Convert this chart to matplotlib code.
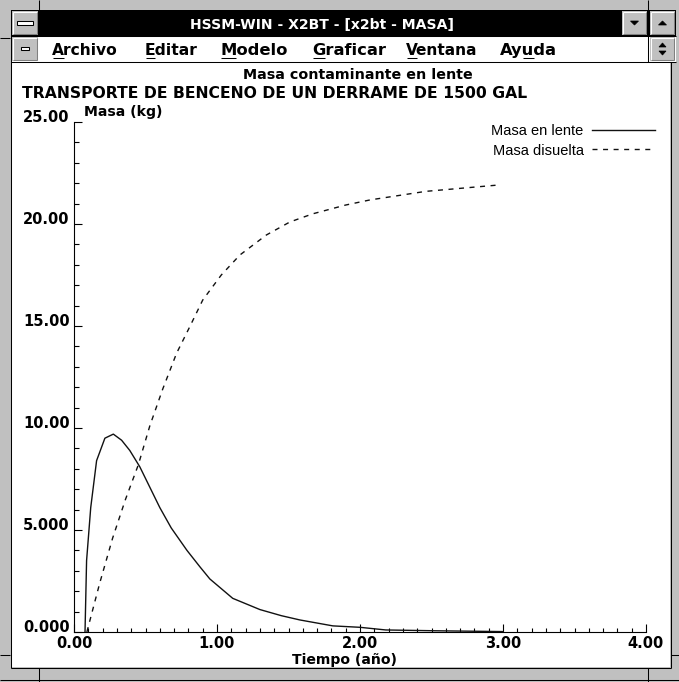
import matplotlib
matplotlib.use('Agg')
import matplotlib.pyplot as plt
from matplotlib.patches import Rectangle, Polygon
from matplotlib.ticker import MultipleLocator

# ---------------- data ----------------
tiempo_lente = [0.077, 0.088, 0.117, 0.158, 0.216, 0.275, 0.333, 0.39, 0.46, 0.53,
                0.60, 0.68, 0.79, 0.88, 0.95, 1.11, 1.30, 1.45, 1.58, 1.81,
                2.0, 2.18, 2.53, 3.0]
masa_lente = [0.0, 3.5, 6.1, 8.4, 9.5, 9.7, 9.4, 8.9, 8.1, 7.1,
              6.1, 5.1, 4.0, 3.2, 2.6, 1.65, 1.1, 0.8, 0.59, 0.3,
              0.23, 0.1, 0.06, 0.02]
tiempo_disuelta = [0.09, 0.18, 0.27, 0.36, 0.45, 0.53, 0.62, 0.717, 0.81, 0.90, 1.03,
                   1.16, 1.345, 1.51, 1.67, 1.90, 2.07, 2.46, 2.95]
masa_disuelta = [0.0, 2.4, 4.6, 6.5, 8.2, 10.1, 11.9, 13.66, 14.97, 16.27, 17.5,
                 18.48, 19.46, 20.1, 20.5, 20.93, 21.18, 21.6, 21.9]
series_names = ['Masa en lente', 'Masa disuelta']
xticks = [0, 1, 2, 3, 4]
xticklabels = ['0.00', '1.00', '2.00', '3.00', '4.00']
yticks = [0, 5, 10, 15, 20, 25]
yticklabels = ['0.000', '5.000', '10.00', '15.00', '20.00', '25.00']
menu_items = ['Archivo', 'Editar', 'Modelo', 'Graficar', 'Ventana', 'Ayuda']
menu_hotkey = [0, 0, 0, 0, 0, 2]
window_title = 'HSSM-WIN - X2BT - [x2bt - MASA]'
chart_title = 'Masa contaminante en lente'
chart_subtitle = 'TRANSPORTE DE BENCENO DE UN DERRAME DE 1500 GAL'
x_label = 'Tiempo (año)'
y_label = 'Masa (kg)'

# ---------------- figure ----------------
W, H = 679, 682
fig = plt.figure(figsize=(W / 100, H / 100), dpi=100)
bg = fig.add_axes([0, 0, 1, 1])
bg.set_xlim(0, W)
bg.set_ylim(H, 0)
bg.axis('off')
renderer = fig.canvas.get_renderer()

GRAY = '#c0c0c0'
DARK = '#808080'
FONT = 'DejaVu Sans'


def rect(x0, y0, x1, y1, fc, ec='none', lw=0.0, z=1):
    bg.add_patch(Rectangle((x0, y0), x1 - x0, y1 - y0, facecolor=fc,
                           edgecolor=ec, linewidth=lw, zorder=z))


def hline(y, x0, x1, c='black', z=3):
    bg.plot([x0, x1], [y, y], color=c, lw=0.75, solid_capstyle='butt', zorder=z)


def vline(x, y0, y1, c='black', z=3):
    bg.plot([x, x], [y0, y1], color=c, lw=0.75, solid_capstyle='butt', zorder=z)


def tri(cx, cy, up=True, w=8, h=4):
    if up:
        pts = [(cx - w / 2, cy + h / 2), (cx + w / 2, cy + h / 2), (cx, cy - h / 2)]
    else:
        pts = [(cx - w / 2, cy - h / 2), (cx + w / 2, cy - h / 2), (cx, cy + h / 2)]
    bg.add_patch(Polygon(pts, closed=True, facecolor='black', edgecolor='black',
                         linewidth=0.5, zorder=5))


def button(x0, y0, x1, y1):
    rect(x0, y0, x1, y1, GRAY, z=2)
    hline(y0 + 1, x0 + 1, x1 - 1, 'white', z=3)
    vline(x0 + 1, y0 + 1, y1 - 1, 'white', z=3)
    hline(y1 - 1, x0 + 1, x1 - 1, DARK, z=3)
    vline(x1 - 1, y0 + 1, y1 - 1, DARK, z=3)


def fit(x0, x1, ybase, s, weight='bold', color='black', family=FONT, z=6):
    t = bg.text(x0, ybase, s, fontsize=10, family=family, weight=weight,
                color=color, ha='left', va='baseline', zorder=z)
    w = t.get_window_extent(renderer).width
    t.set_fontsize(10 * (x1 - x0) / w)
    return t


def width_of(s, size, weight='bold', family=FONT):
    t = bg.text(0, 0, s, fontsize=size, family=family, weight=weight)
    w = t.get_window_extent(renderer).width
    t.remove()
    return w


# window background / frame
rect(0, 0, W, H, GRAY, z=0)
# title bar
rect(11, 10, 676, 36, 'black', z=1)
button(12, 11, 38, 35)
rect(17, 21, 33, 25, 'white', ec='black', lw=0.75, z=5)
button(622, 11, 647, 35)
tri(634.5, 23, up=False)
button(650, 11, 675, 35)
tri(662.5, 23, up=True)
fit(190, 455, 29, window_title, weight='bold', color='white')

# menu bar
rect(11, 36, 676, 62, 'white', z=1)
hline(36, 11, 676)
hline(62, 11, 676)
button(12, 37, 38, 61)
rect(21, 47, 29, 50, 'white', ec='black', lw=0.75, z=5)
button(650, 37, 675, 61)
tri(662.5, 45, up=True, w=7, h=4)
tri(662.5, 53, up=False, w=7, h=4)
vline(648, 0, 62)

menu_x = [(52, 118), (145, 198), (220, 287), (312, 386), (406, 478), (500, 557)]
for (x0, x1), item, k in zip(menu_x, menu_items, menu_hotkey):
    t = fit(x0, x1, 55, item)
    size = t.get_fontsize()
    a = width_of(item[:k], size) if k > 0 else 0.0
    b = width_of(item[:k + 1], size)
    hline(57.5, x0 + a + 0.5, x0 + b - 0.5, z=6)

# client area
rect(12, 63, 670, 667, 'white', z=1)
vline(11, 10, 668)
vline(670.5, 62, 668)
hline(667.5, 11, 671)
vline(39, 0, 10)
vline(39, 668, 682)
vline(648, 668, 682)
hline(38, 0, 10)
hline(655, 0, 10)
hline(655, 671, 679)
hline(679.5, 0, W)

# chart texts
fit(243, 472, 79, chart_title)
fit(22, 530, 98, chart_subtitle)
fit(84, 162, 116, y_label)
fit(292, 397, 664, x_label)

# ---------------- plot axes ----------------
x0p, x4p, y0p, y25p = 74, 646, 632, 122
ax = fig.add_axes([x0p / W, (H - y0p) / H, (x4p - x0p) / W, (y0p - y25p) / H])
ax.set_facecolor('none')
ax.plot(tiempo_lente, masa_lente, color='#111111', lw=1.0, label=series_names[0])
ax.plot(tiempo_disuelta, masa_disuelta, color='#111111', lw=1.0,
        linestyle=(0, (3.6, 4.0)), label=series_names[1])
ax.set_xlim(0, 4)
ax.set_ylim(0, 25)
for s in ['top', 'right']:
    ax.spines[s].set_visible(False)
for s in ['left', 'bottom']:
    ax.spines[s].set_linewidth(0.8)
ax.set_xticks(xticks)
ax.set_xticklabels(xticklabels, fontweight='bold', fontsize=10.5, family=FONT)
ax.set_yticks(yticks)
ax.set_yticklabels(yticklabels, fontweight='bold', fontsize=10.5, family=FONT, va='baseline')
ax.xaxis.set_minor_locator(MultipleLocator(0.1))
ax.yaxis.set_minor_locator(MultipleLocator(1))
ax.tick_params(which='both', direction='in', width=0.8, color='black')
ax.tick_params(axis='x', which='major', length=5.5, pad=3)
ax.tick_params(axis='x', which='minor', length=2.8)
ax.tick_params(axis='y', which='major', length=5.8, pad=3)
ax.tick_params(axis='y', which='minor', length=3.3)

leg = ax.legend(loc='upper right', bbox_to_anchor=(655 / W, (H - 124) / H),
                bbox_transform=fig.transFigure, frameon=False, markerfirst=False,
                handlelength=4.3, handletextpad=0.6, labelspacing=0.38,
                borderpad=0, borderaxespad=0,
                prop={'family': 'Liberation Sans', 'size': 10.5})

fig.savefig('out.png', dpi=100)
